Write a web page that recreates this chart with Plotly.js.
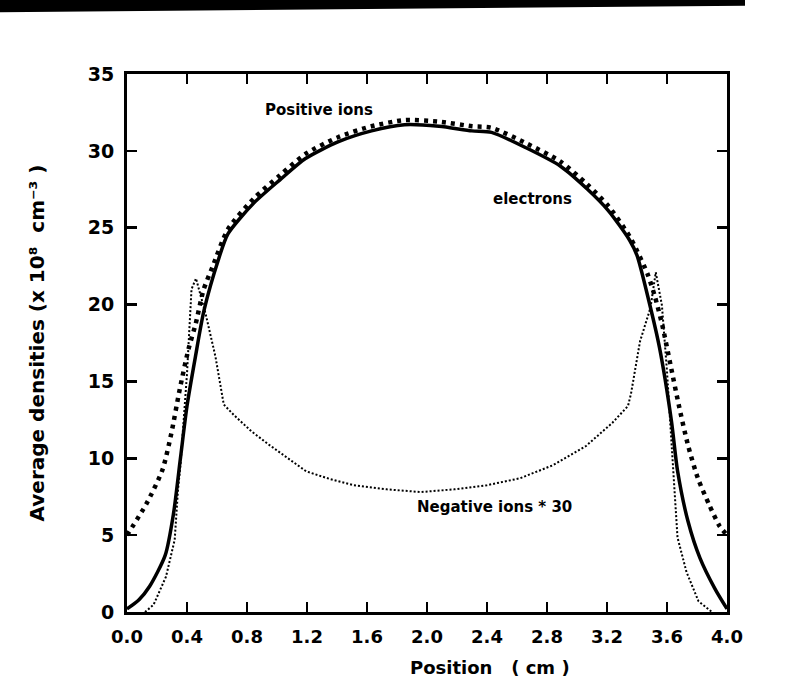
<!DOCTYPE html>
<html>
<head>
<meta charset="utf-8">
<script src="https://cdn.plot.ly/plotly-3.0.1.min.js"></script>
<style>
html,body{margin:0;padding:0;background:#fff;}
#chart{width:808px;height:694px;}
</style>
</head>
<body>
<div id="chart"></div>
<script>
// ---- data ----
const posX = [0.0, 0.13, 0.236, 0.295, 0.352, 0.41, 0.458, 0.51, 0.57, 0.673, 0.845, 1.018, 1.19, 1.41, 1.63, 1.85, 2.08, 2.30, 2.43, 2.66, 2.89, 3.07, 3.21, 3.35, 3.40, 3.47, 3.52, 3.57, 3.625, 3.68, 3.74, 3.806, 3.88, 3.95, 4.0];
const posY = [5.0, 7.05, 9.24, 11.6, 14.5, 17.1, 18.75, 20.95, 22.45, 24.9, 26.9, 28.4, 29.8, 30.9, 31.6, 32.0, 31.9, 31.6, 31.5, 30.5, 29.3, 27.8, 26.4, 24.45, 23.5, 22.0, 20.5, 18.6, 16.0, 13.4, 10.85, 8.7, 7.0, 5.6, 5.0];

const eleX = [0.0, 0.08, 0.15, 0.255, 0.31, 0.355, 0.40, 0.456, 0.513, 0.612, 0.673, 0.845, 1.018, 1.19, 1.41, 1.63, 1.85, 2.08, 2.30, 2.43, 2.66, 2.89, 3.07, 3.21, 3.35, 3.40, 3.48, 3.55, 3.63, 3.67, 3.74, 3.82, 3.92, 4.0];
const eleY = [0.2, 0.8, 1.66, 3.7, 6.4, 9.9, 13.4, 16.6, 19.6, 23.0, 24.6, 26.6, 28.1, 29.5, 30.6, 31.3, 31.7, 31.6, 31.3, 31.2, 30.2, 29.0, 27.5, 26.1, 24.2, 23.2, 20.2, 17.2, 12.4, 9.2, 5.9, 3.5, 1.5, 0.2];

const negX = [0.12, 0.177, 0.26, 0.318, 0.34, 0.357, 0.40, 0.43, 0.46, 0.524, 0.59, 0.645, 0.714, 0.83, 0.944, 1.058, 1.195, 1.353, 1.51, 1.734, 1.958, 2.18, 2.40, 2.62, 2.84, 3.06, 3.235, 3.34, 3.36, 3.42, 3.49, 3.525, 3.566, 3.60, 3.64, 3.67, 3.73, 3.81, 3.9];
const negY = [0.0, 0.47, 2.3, 4.7, 7.95, 9.65, 15.5, 21.0, 21.7, 19.4, 16.6, 13.5, 12.8, 11.75, 10.9, 10.1, 9.15, 8.65, 8.25, 7.98, 7.8, 7.98, 8.25, 8.7, 9.55, 10.8, 12.3, 13.4, 14.2, 17.6, 19.8, 22.1, 19.96, 15.65, 9.2, 4.85, 2.6, 0.7, 0.0];

const xTickVals = [0.0, 0.4, 0.8, 1.2, 1.6, 2.0, 2.4, 2.8, 3.2, 3.6, 4.0];
const xTickText = ['0.0', '0.4', '0.8', '1.2', '1.6', '2.0', '2.4', '2.8', '3.2', '3.6', '4.0'];
const yTickVals = [0, 5, 10, 15, 20, 25, 30, 35];
const yTickText = ['0', '5', '10', '15', '20', '25', '30', '35'];

const seriesNames = ['Positive ions', 'electrons', 'Negative ions * 30'];

// ---- chart ----
const FONT = 'DejaVu Sans';

const traces = [
  {
    x: eleX, y: eleY, name: seriesNames[1], type: 'scatter', mode: 'lines',
    line: {color: '#000', width: 3.5, shape: 'spline', smoothing: 0.7}
  },
  {
    x: negX, y: negY, name: seriesNames[2], type: 'scatter', mode: 'lines',
    line: {color: '#000', width: 2, dash: '2px,2px', shape: 'linear'}
  },
  {
    x: posX, y: posY, name: seriesNames[0], type: 'scatter', mode: 'lines',
    line: {color: '#000', width: 4.5, dash: '4px,5px', shape: 'spline', smoothing: 0.7}
  }
];

const axisCommon = {
  showline: true, linecolor: '#000', linewidth: 3,
  mirror: 'ticks', ticks: 'inside', ticklen: 10, tickwidth: 2.5, tickcolor: '#000',
  showgrid: false, zeroline: false, ticklabelstandoff: 6
};

const layout = {
  width: 808, height: 694,
  margin: {l: 127, r: 81, t: 74, b: 82},
  paper_bgcolor: '#fff', plot_bgcolor: '#fff',
  showlegend: false,
  font: {family: FONT, color: '#000'},
  xaxis: Object.assign({}, axisCommon, {
    range: [0, 4.0],
    tickvals: xTickVals, ticktext: xTickText,
    tickfont: {family: FONT, size: 18, weight: 'bold', color: '#000'}
  }),
  yaxis: Object.assign({}, axisCommon, {
    range: [0, 35],
    tickvals: yTickVals, ticktext: yTickText,
    tickfont: {family: FONT, size: 19, weight: 'bold', color: '#000'},
    title: {
      text: 'Average densities (x 10\u2078\u00a0\u00a0cm\u207b\u00b3 )',
      font: {family: FONT, size: 20, weight: 'bold', color: '#000'},
      standoff: 38
    }
  }),
  annotations: [
    {text: seriesNames[0], x: 1.28, y: 32.65, xref: 'x', yref: 'y', showarrow: false,
     font: {family: FONT, size: 15, weight: 'bold', color: '#000'}},
    {text: seriesNames[1], x: 2.70, y: 26.9, xref: 'x', yref: 'y', showarrow: false,
     font: {family: FONT, size: 15, weight: 'bold', color: '#000'}},
    {text: seriesNames[2], x: 2.45, y: 6.8, xref: 'x', yref: 'y', showarrow: false,
     font: {family: FONT, size: 15, weight: 'bold', color: '#000'}},
    {text: 'Position\u00a0\u00a0\u00a0( cm )', x: 0.605, y: -0.104, xref: 'paper', yref: 'paper',
     xanchor: 'center', yanchor: 'middle', showarrow: false,
     font: {family: FONT, size: 18, weight: 'bold', color: '#000'}}
  ],
  shapes: [
    {type: 'path', xref: 'paper', yref: 'paper',
     path: 'M -0.212 1.138 L 1.03 1.138 L 1.03 1.127 L -0.212 1.115 Z',
     fillcolor: '#000', line: {width: 0}}
  ]
};

Plotly.newPlot('chart', traces, layout, {displayModeBar: false, staticPlot: true});
</script>
</body>
</html>
